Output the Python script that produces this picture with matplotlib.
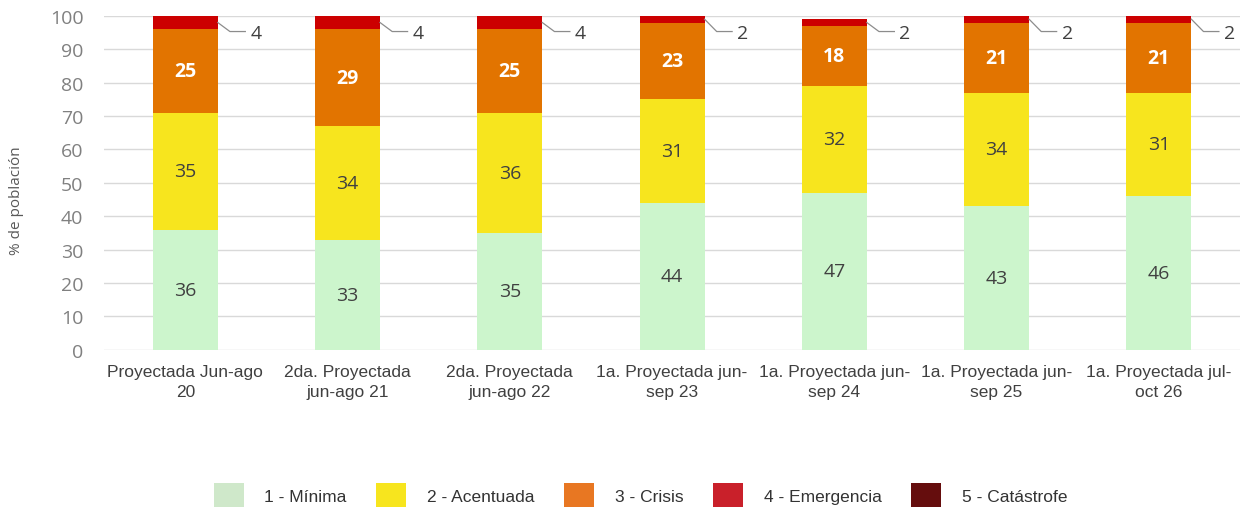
import matplotlib.pyplot as plt
from matplotlib.patches import Patch
import numpy as np

categories = ["Proyectada Jun-ago\n20", "2da. Proyectada\njun-ago 21", "2da. Proyectada\njun-ago 22",
              "1a. Proyectada jun-\nsep 23", "1a. Proyectada jun-\nsep 24", "1a. Proyectada jun-\nsep 25",
              "1a. Proyectada jul-\noct 26"]
minima = [36, 33, 35, 44, 47, 43, 46]
acentuada = [35, 34, 36, 31, 32, 34, 31]
crisis = [25, 29, 25, 23, 18, 21, 21]
emergencia = [4, 4, 4, 2, 2, 2, 2]
legend_labels = ["1 - Mínima", "2 - Acentuada", "3 - Crisis", "4 - Emergencia", "5 - Catástrofe"]

bar_colors = ["#CCF5CC", "#F7E51E", "#E27400", "#CC0000"]
legend_colors = ["#CFE8CA", "#F7E51E", "#E87722", "#C9202A", "#650D0D"]

plt.rcParams.update({"font.family": "Open Sans"})

fig = plt.figure(figsize=(12.4, 5.1), dpi=100)
ax = fig.add_axes([0.084, 0.312, 0.916, 0.655])

x = np.arange(len(categories))
w = 0.40
bottom = np.zeros(len(x))
series = [minima, acentuada, crisis, emergencia]
for vals, col in zip(series, bar_colors):
    ax.bar(x, vals, w, bottom=bottom, color=col, zorder=2)
    bottom += np.array(vals)

# labels inside bars
b = np.zeros(len(x))
for k, vals in enumerate(series[:3]):
    for i, v in enumerate(vals):
        white = k == 2
        ax.text(x[i], b[i] + v / 2, f"{v}", ha="center", va="center", fontsize=14,
                color="white" if white else "#404040", fontweight="bold" if white else "normal", zorder=3)
    b += np.array(vals)

# emergencia labels with leader lines
for i, v in enumerate(emergencia):
    top = b[i] + v
    x0 = x[i] + w / 2
    y0 = top - v / 2
    ax.plot([x0, x0 + 0.075, x0 + 0.17], [y0, 95.3, 95.3], color="#8C8C8C", lw=0.9,
            zorder=3, clip_on=False)
    ax.text(x0 + 0.2, 94.8, f"{v}", ha="left", va="center", fontsize=14, color="#404040")

ax.set_xlim(-0.5, 6.5)
ax.set_ylim(0, 100)
ax.set_yticks(range(0, 101, 10))
ax.set_xticks(x)
ax.set_xticklabels(categories, fontsize=12.5, color="#404040", family="Liberation Sans", linespacing=1.45)
ax.tick_params(axis="y", labelsize=14, labelcolor="#808080", length=0, pad=15)
ax.tick_params(axis="x", length=0, pad=10)
ax.grid(axis="y", color="#D9D9D9", lw=1)
ax.set_axisbelow(True)
for s in ax.spines.values():
    s.set_visible(False)
ax.set_ylabel("% de población", fontsize=11, color="#595959")
ax.yaxis.label.set_va("center")
ax.yaxis.set_label_coords(-0.077, 0.45)

handles = [Patch(facecolor=c) for c in legend_colors]
fig.legend(handles, legend_labels, loc="center", bbox_to_anchor=(0.5165, 0.027), ncol=5,
           frameon=False, prop={"family": "Liberation Sans", "size": 12.5}, handlelength=1.72,
           handleheight=1.72, handletextpad=1.2, columnspacing=1.7, labelcolor="#333333")

fig.savefig("out.png", dpi=100)
